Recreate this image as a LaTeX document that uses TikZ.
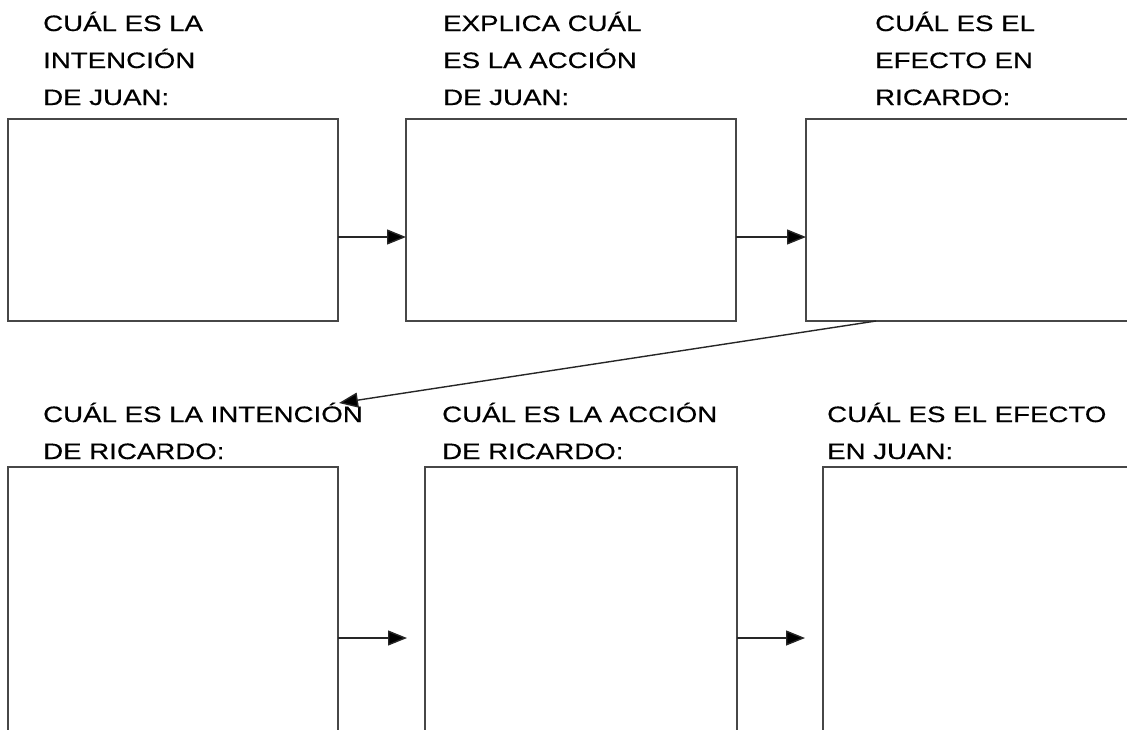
\documentclass[tikz,border=0pt]{standalone}
\usepackage{fontspec}
\newfontfamily\labfont[FakeStretch=1.24,FakeBold=0.5]{Liberation Sans}
\usetikzlibrary{arrows.meta,calc}
\begin{document}
\begin{tikzpicture}[x=1pt,y=-1pt,
  box/.style={draw=black!72,line width=1.7pt,fill=none,inner sep=0pt,outer sep=0pt,anchor=north west},
  lab/.style={anchor=base west,inner sep=0pt,font=\labfont\fontsize{22.3}{26}\selectfont,text=black},
  arr/.style={draw=black!85,line width=1.4pt,-{Triangle[length=19pt,width=15pt,fill=black]}}]
\useasboundingbox (0,0) rectangle (1127,729);
\clip (0,0) rectangle (1127,729);
% boxes
\node[box,minimum width=330pt,minimum height=202pt] (b1) at (8,119) {};
\node[box,minimum width=330pt,minimum height=202pt] (b2) at (406,119) {};
\node[box,minimum width=400pt,minimum height=202pt] (b3) at (806,119) {};
\node[box,minimum width=330pt,minimum height=320pt] (b4) at (8,467) {};
\node[box,minimum width=312pt,minimum height=320pt] (b5) at (425,467) {};
\node[box,minimum width=400pt,minimum height=320pt] (b6) at (823,467) {};
% labels
\node[lab] (t1a) at (43,31) {CUÁL ES LA};
\node[lab] (t1b) at (43,68) {INTENCIÓN};
\node[lab] (t1c) at (43,105) {DE JUAN:};
\node[lab] (t2a) at (443,31) {EXPLICA CUÁL};
\node[lab] (t2b) at (443,68) {ES LA ACCIÓN};
\node[lab] (t2c) at (443,105) {DE JUAN:};
\node[lab] (t3a) at (875,31) {CUÁL ES EL};
\node[lab] (t3b) at (875,68) {EFECTO EN};
\node[lab] (t3c) at (875,105) {RICARDO:};
\node[lab] (t4a) at (43,422) {CUÁL ES LA INTENCIÓN};
\node[lab] (t4b) at (43,459) {DE RICARDO:};
\node[lab] (t5a) at (442,422) {CUÁL ES LA ACCIÓN};
\node[lab] (t5b) at (442,459) {DE RICARDO:};
\node[lab] (t6a) at (827,422) {CUÁL ES EL EFECTO};
\node[lab] (t6b) at (827,459) {EN JUAN:};
% connectors
\draw[arr] (b1.north east |- 0,237) -- (b2.north west |- 0,237);
\draw[arr] (b2.north east |- 0,237) -- (b3.north west |- 0,237);
\coordinate (d1) at ($(b3.south west)+(70,0)$);
\coordinate (d2) at (339,403);
\draw[arr] (d1) -- (d2);
\coordinate (e1) at (407,638);
\coordinate (e2) at (805,638);
\draw[arr] (b4.north east |- 0,638) -- (e1);
\draw[arr] (b5.north east |- 0,638) -- (e2);
\end{tikzpicture}
\end{document}
